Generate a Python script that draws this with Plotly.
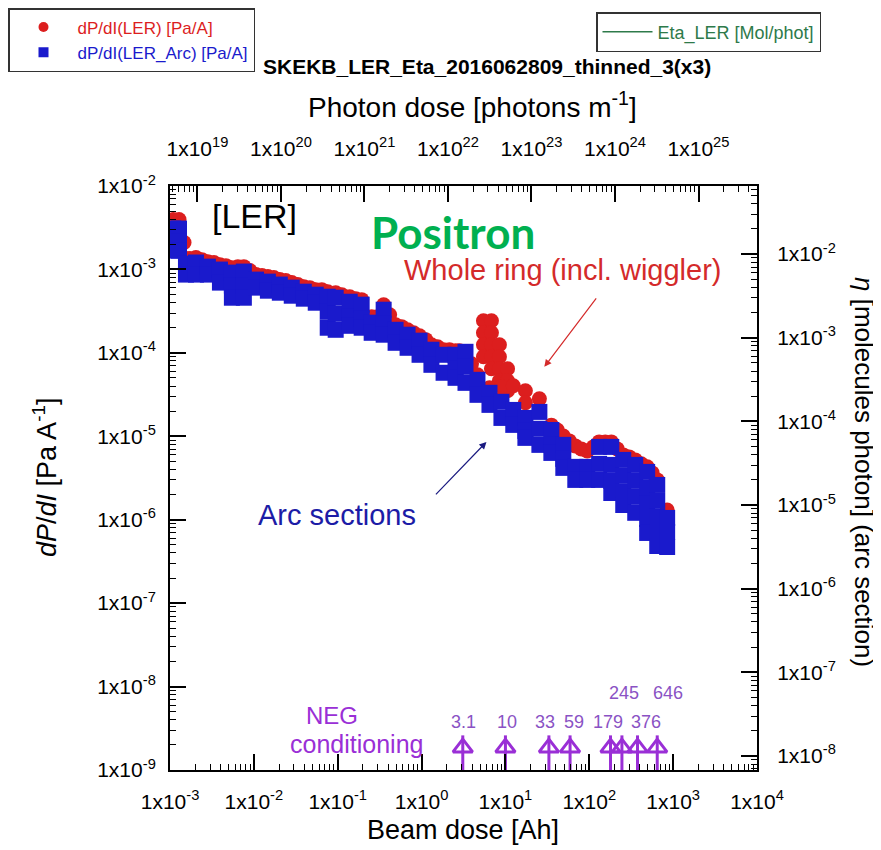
import math
import plotly.graph_objects as go

# ---------------- data ----------------
# Whole ring  dP/dI(LER) [Pa/A]
ler_dose = [1.09e-3, 1.28e-3, 1.09e-3, 1.28e-3, 1.47e-3,
            1.55e-3, 1.73e-3, 2.04e-3, 2.40e-3, 2.83e-3, 3.34e-3, 3.94e-3, 4.64e-3, 5.47e-3, 6.45e-3, 7.60e-3, 8.96e-3,
            1.06e-2, 1.25e-2, 1.47e-2, 1.73e-2, 2.04e-2, 2.40e-2, 2.83e-2, 3.34e-2, 3.94e-2, 4.64e-2, 5.47e-2, 6.45e-2,
            7.60e-2, 9.46e-2, 0.112, 0.139, 0.164, 0.193, 0.254, 0.299, 0.353, 0.416, 0.490, 0.578, 0.681, 0.803,
            0.946, 1.12, 1.31, 1.55, 1.83, 2.15, 2.54, 2.83, 3.34, 3.94, 4.64,
            5.47, 5.47, 5.47, 5.47, 6.81, 6.81, 6.81, 6.81, 6.81, 8.48, 8.48, 8.48, 8.48, 10.6, 10.6, 10.6,
            6.45, 8.96, 12.4, 17.3, 25.4, 8.96, 17.3,
            35.3, 41.6, 49.0, 57.8, 68.1, 80.3, 94.6, 112, 131, 155, 183, 215, 254, 299, 353, 416, 490, 562, 646, 848]
ler_dpdi = [3.96e-3, 3.96e-3, 2.92e-3, 2.92e-3, 2.10e-3,
            1.35e-3, 1.35e-3, 1.39e-3, 1.31e-3, 1.24e-3, 1.21e-3, 1.14e-3, 1.11e-3, 1.05e-3, 1.08e-3, 1.08e-3, 9.68e-4,
            8.67e-4, 8.44e-4, 8.20e-4, 7.98e-4, 7.55e-4, 7.35e-4, 6.95e-4, 6.58e-4, 6.22e-4, 6.05e-4, 5.72e-4, 5.72e-4,
            5.41e-4, 5.26e-4, 4.98e-4, 4.71e-4, 4.46e-4, 4.34e-4, 2.71e-4, 2.71e-4, 3.78e-4, 2.86e-4, 2.17e-4, 2.06e-4, 1.89e-4, 1.74e-4,
            1.60e-4, 1.44e-4, 1.25e-4, 1.18e-4, 1.09e-4, 1.09e-4, 1.06e-4, 1.06e-4, 1.01e-4, 7.39e-5, 5.46e-5,
            2.43e-4, 1.74e-4, 1.25e-4, 8.97e-5, 2.43e-4, 1.74e-4, 1.25e-4, 8.97e-5, 6.44e-5, 1.25e-4, 8.97e-5, 6.44e-5, 4.62e-5, 6.44e-5, 4.62e-5, 3.51e-5,
            3.81e-5, 3.92e-5, 4.03e-5, 3.51e-5, 2.81e-5, 2.81e-5, 2.52e-5,
            1.36e-5, 1.19e-5, 1.01e-5, 8.81e-6, 7.67e-6, 7.06e-6, 6.68e-6, 7.46e-6, 8.57e-6, 8.57e-6, 8.57e-6, 7.06e-6, 5.98e-6, 5.66e-6, 5.21e-6, 4.67e-6, 4.30e-6, 3.64e-6, 3.00e-6, 1.31e-6]

# Arc sections  dP/dI(LER_Arc) [Pa/A]
arc_dose = [1.09e-3, 1.09e-3, 1.09e-3, 1.28e-3, 1.28e-3, 1.28e-3,
            1.55e-3, 1.55e-3, 2.04e-3, 2.04e-3, 2.83e-3, 2.83e-3, 3.94e-3, 3.94e-3,
            5.47e-3, 5.47e-3, 5.47e-3, 7.60e-3, 7.60e-3, 7.60e-3,
            1.06e-2, 1.06e-2, 1.47e-2, 1.47e-2, 2.04e-2, 2.04e-2, 2.83e-2, 2.83e-2,
            3.94e-2, 3.94e-2, 5.47e-2, 5.47e-2, 7.60e-2, 7.60e-2, 7.60e-2, 9.46e-2, 9.46e-2, 9.46e-2,
            0.139, 0.139, 0.139, 0.193, 0.193, 0.193, 0.254, 0.254, 0.353, 0.353, 0.353,
            0.490, 0.490, 0.681, 0.681, 0.946, 0.946, 1.31, 1.31, 1.83, 1.83,
            2.54, 2.54, 2.54, 3.34, 3.34, 3.34, 4.64, 4.64, 6.45, 6.45, 8.96, 8.96, 12.4, 12.4,
            17.3, 17.3, 17.3, 25.4, 25.4, 25.4, 35.3, 35.3, 35.3, 49.0, 49.0, 49.0,
            68.1, 68.1, 94.6, 94.6, 131, 131, 131, 183, 183, 183, 183,
            254, 254, 254, 254, 353, 353, 353, 353, 490, 490, 490, 490, 490,
            646, 646, 646, 646, 646, 848, 848, 848]
arc_dpdi = [3.09e-3, 2.28e-3, 1.68e-3, 3.09e-3, 2.16e-3, 1.68e-3,
            1.17e-3, 8.67e-4, 1.21e-3, 8.67e-4, 1.08e-3, 8.67e-4, 9.96e-4, 6.95e-4,
            9.16e-4, 6.40e-4, 4.58e-4, 9.42e-4, 6.40e-4, 4.58e-4,
            7.55e-4, 6.05e-4, 7.14e-4, 5.56e-4, 6.58e-4, 5.26e-4, 6.05e-4, 4.84e-4,
            5.41e-4, 4.46e-4, 4.98e-4, 3.99e-4, 4.71e-4, 3.11e-4, 2.00e-4, 4.58e-4, 2.94e-4, 1.89e-4,
            4.10e-4, 2.71e-4, 2.11e-4, 3.78e-4, 2.56e-4, 2.00e-4, 2.30e-4, 1.74e-4, 3.29e-4, 2.23e-4, 1.65e-4,
            1.89e-4, 1.32e-4, 1.65e-4, 1.15e-4, 1.40e-4, 9.48e-5, 1.09e-4, 7.19e-5, 9.48e-5, 5.77e-5,
            9.48e-5, 6.44e-5, 5.02e-5, 1.03e-4, 6.81e-5, 4.37e-5, 4.75e-5, 3.14e-5, 3.32e-5, 2.38e-5, 2.59e-5, 1.66e-5, 2.07e-5, 1.37e-5,
            1.66e-5, 1.16e-5, 9.57e-6, 1.96e-5, 1.23e-5, 7.89e-6, 1.19e-5, 7.89e-6, 6.32e-6, 7.89e-6, 5.36e-6, 4.18e-6,
            4.30e-6, 3.00e-6, 4.30e-6, 3.00e-6, 7.46e-6, 4.67e-6, 3.00e-6, 7.46e-6, 4.54e-6, 2.92e-6, 2.09e-6,
            5.21e-6, 3.35e-6, 2.15e-6, 1.50e-6, 4.54e-6, 2.92e-6, 1.88e-6, 1.21e-6, 3.74e-6, 2.40e-6, 1.55e-6, 1.02e-6, 6.94e-7,
            2.61e-6, 1.68e-6, 1.08e-6, 7.13e-7, 4.84e-7, 1.05e-6, 7.13e-7, 4.71e-7]

# NEG conditioning beam doses [Ah]
neg_doses = [3.1, 10, 33, 59, 179, 245, 376, 646]
neg_labels = ["3.1", "10", "33", "59", "179", "245", "376", "646"]
neg_label_at = [3.16, 10.3, 29.9, 66.2, 168, 261, 477, 871]   # where each label sits (Ah)
neg_upper_row = [False, False, False, False, False, True, False, True]

# axis ticks
beam_ticks = [1e-3, 1e-2, 1e-1, 1e0, 1e1, 1e2, 1e3, 1e4]
beam_ticktext = ["-3", "-2", "-1", "0", "1", "2", "3", "4"]
photon_ticks = [1e19, 1e20, 1e21, 1e22, 1e23, 1e24, 1e25]
photon_ticktext = ["19", "20", "21", "22", "23", "24", "25"]
dpdi_ticks = [1e-9, 1e-8, 1e-7, 1e-6, 1e-5, 1e-4, 1e-3, 1e-2]
dpdi_ticktext = ["-9", "-8", "-7", "-6", "-5", "-4", "-3", "-2"]
eta_ticks = [1e-8, 1e-7, 1e-6, 1e-5, 1e-4, 1e-3, 1e-2]
eta_ticktext = ["-8", "-7", "-6", "-5", "-4", "-3", "-2"]

# ---------------- styling ----------------
FONT = "Liberation Sans, Arial, sans-serif"
RED = "#dc1e1e"
BLUE = "#1a1acc"
PURPLE = "#9a2fd6"
PURPLE_TXT = "#8a52c4"

OFF = 8                      # page body margin of the html page
L, R, T, B = 170, 757, 186, 770   # plot frame in window pixels
W, H = 881 - OFF, 850 - OFF


def px(x, y):
    return (x - L) / (R - L), (B - y) / (B - T)


def minor_vals(lo, hi):
    return [m * 10.0 ** k for k in range(lo, hi) for m in range(2, 10)]


def sup(vals):
    return ["1x10<sup>%s</sup>" % v for v in vals]


fig = go.Figure()

fig.add_trace(go.Scatter(x=ler_dose, y=ler_dpdi, mode="markers", showlegend=False,
                         marker=dict(symbol="circle", size=15, color=RED, line=dict(width=0))))
fig.add_trace(go.Scatter(x=arc_dose, y=arc_dpdi, mode="markers", showlegend=False,
                         marker=dict(symbol="square", size=16, color=BLUE, line=dict(width=0))))

# legend entries
fig.add_trace(go.Scatter(x=[None], y=[None], mode="markers", legend="legend",
                         name="<span style='color:%s'>dP/dI(LER) [Pa/A]</span>" % RED,
                         marker=dict(symbol="circle", size=10, color=RED)))
fig.add_trace(go.Scatter(x=[None], y=[None], mode="markers", legend="legend",
                         name="<span style='color:%s'>dP/dI(LER_Arc) [Pa/A]</span>" % BLUE,
                         marker=dict(symbol="square", size=10, color=BLUE)))
fig.add_trace(go.Scatter(x=[None], y=[None], mode="lines", legend="legend2",
                         xaxis="x2", yaxis="y2",
                         name="<span style='color:#2e7a4a'>Eta_LER [Mol/phot]</span>",
                         line=dict(color="#2e7a4a", width=1.5)))

# NEG conditioning arrows
stem_x, stem_y = [], []
for d in neg_doses:
    stem_x += [d, d, None]
    stem_y += [1e-9, 2.6e-9, None]
fig.add_trace(go.Scatter(x=stem_x, y=stem_y, mode="lines", showlegend=False,
                         line=dict(color=PURPLE, width=3)))
fig.add_trace(go.Scatter(x=neg_doses, y=[1.85e-9] * len(neg_doses), mode="markers", showlegend=False,
                         marker=dict(symbol="triangle-up-open", size=17, color=PURPLE,
                                     line=dict(color=PURPLE, width=3))))

axis_common = dict(type="log", showgrid=False, zeroline=False, showline=True,
                   linecolor="black", linewidth=2, ticks="inside", ticklen=16,
                   tickwidth=2, tickcolor="black", automargin=False, tickangle=0,
                   tickfont=dict(family=FONT, size=21, color="black"))
minor_common = dict(ticks="inside", ticklen=6, tickwidth=1.3, tickcolor="black", showgrid=False)

fig.update_layout(
    width=W, height=H, autosize=False,
    margin=dict(l=L - OFF, r=W - (R - OFF), t=T - OFF, b=H - (B - OFF), pad=0, autoexpand=False),
    paper_bgcolor="white", plot_bgcolor="white",
    font=dict(family=FONT, color="black"),
    xaxis=dict(axis_common, range=[-3, 4], tickvals=beam_ticks, ticktext=sup(beam_ticktext),
               ticklabelstandoff=12, minor=dict(minor_common, tickvals=minor_vals(-3, 4))),
    xaxis2=dict(axis_common, range=[18.672, 25.70], overlaying="x", side="top", anchor="y",
                tickvals=photon_ticks, ticktext=sup(photon_ticktext), ticklabelstandoff=20,
                minor=dict(minor_common, tickvals=minor_vals(18, 26))),
    yaxis=dict(axis_common, range=[-9, -2], tickvals=dpdi_ticks, ticktext=sup(dpdi_ticktext),
               ticklabelstandoff=8, minor=dict(minor_common, tickvals=minor_vals(-9, -2))),
    yaxis2=dict(axis_common, range=[-8.168, -1.186], overlaying="y", side="right", anchor="x",
                tickvals=eta_ticks, ticktext=sup(eta_ticktext), ticklabelstandoff=14,
                minor=dict(minor_common, tickvals=minor_vals(-9, -1))),
    legend=dict(xref="container", yref="container", x=0, y=1,
                xanchor="left", yanchor="top", bgcolor="white", bordercolor="#333",
                borderwidth=1.5, font=dict(family=FONT, size=17), itemwidth=58,
                tracegroupgap=0),
    legend2=dict(xref="container", yref="container", x=(596 - OFF) / W, y=1 - (12 - OFF) / H,
                 xanchor="left", yanchor="top", bgcolor="white", bordercolor="#333",
                 borderwidth=1.5, font=dict(family=FONT, size=18), itemwidth=50),
)

ann = []


def text_at(x, y, text, size, color, family=FONT, angle=0, xanchor="center"):
    xp, yp = px(x, y)
    ann.append(dict(xref="paper", yref="paper", x=xp, y=yp, text=text, showarrow=False,
                    xanchor=xanchor, yanchor="middle", textangle=angle,
                    font=dict(family=family, size=size, color=color)))


# title and axis titles
text_at(487, 66, "<b>SKEKB_LER_Eta_2016062809_thinned_3(x3)</b>", 21, "black")
text_at(472, 105, "Photon dose [photons m<sup>-1</sup>]", 28, "black")
text_at(463, 830, "Beam dose [Ah]", 27, "black")
text_at(45, 478, "<i>dP</i>/<i>dI</i> [Pa A<sup>-1</sup>]", 27, "black", angle=-90)
text_at(864, 472, "<i>η</i> [molecules photon] (arc section)", 26, "black", angle=90)

# in-plot labels
text_at(254, 216, "[LER]", 34, "black")
text_at(453, 232, "<b>Positron</b>", 44, "#00b050", family="Lato, Carlito, sans-serif")
text_at(563, 270, "Whole ring (incl. wiggler)", 29, "#d42a2a")
text_at(337, 515, "Arc sections", 29, "#1c1ca6")
text_at(332, 715, "NEG", 24, PURPLE)
text_at(356, 744, "conditioning", 25, PURPLE)

# NEG dose labels
for pos, lab, up in zip(neg_label_at, neg_labels, neg_upper_row):
    _, yp = px(0, 693 if up else 722)
    ann.append(dict(xref="x", yref="paper", x=math.log10(pos), y=yp, text=lab, showarrow=False,
                    xanchor="center", yanchor="middle",
                    font=dict(family=FONT, size=18, color=PURPLE_TXT)))

# pointer arrows
ann.append(dict(xref="x", yref="y", x=math.log10(29.1), y=-4.167, ax=53, ay=-70,
                showarrow=True, arrowhead=2, arrowsize=1.2, arrowwidth=1.2,
                arrowcolor="#d42a2a", text=""))
ann.append(dict(xref="x", yref="y", x=math.log10(5.94), y=-5.067, ax=-52, ay=54,
                showarrow=True, arrowhead=2, arrowsize=1.2, arrowwidth=1.2,
                arrowcolor="#1a1a80", text=""))

fig.update_layout(annotations=ann)
fig.write_html("out.html")
